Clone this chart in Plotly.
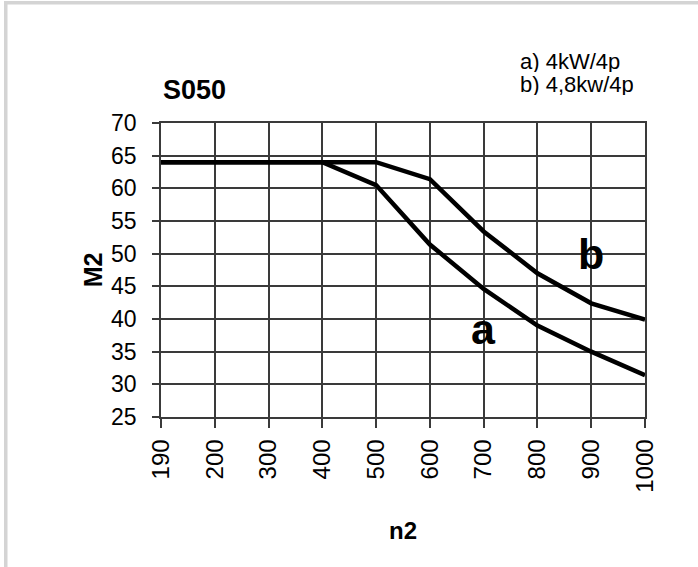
import plotly.graph_objects as go

n2 = ["190", "200", "300", "400", "500", "600", "700", "800", "900", "1000"]
m2_a = [64, 64, 64, 64, 60.5, 51.4, 44.6, 39.0, 35.0, 31.4]
m2_b = [64, 64, 64, 64, 64, 61.4, 53.4, 47.0, 42.4, 39.9]
y_ticks = [25, 30, 35, 40, 45, 50, 55, 60, 65, 70]

FONT = "Liberation Sans Narrow, Liberation Sans, Arial, sans-serif"
W, H = 698, 567
L, R, T, B = 161, 53, 123, 150
PW, PH = W - L - R, H - T - B

def px(x):
    return (x - L) / PW

def py(y):
    return (H - B - y) / PH

fig = go.Figure()
for vals in (m2_a, m2_b):
    fig.add_trace(go.Scatter(
        x=n2, y=vals, mode="lines",
        line=dict(color="black", width=4.5),
        showlegend=False, hoverinfo="skip", cliponaxis=False,
    ))

fig.add_annotation(x=n2.index("700"), y=38.4, text="<b>a</b>", showarrow=False,
                   font=dict(family=FONT, size=43, color="black"))
fig.add_annotation(x=n2.index("900"), y=50.0, text="<b>b</b>", showarrow=False,
                   font=dict(family=FONT, size=43, color="black"))

# title and legend texts
fig.add_annotation(xref="paper", yref="paper", x=px(194), y=py(90),
                   xanchor="center", yanchor="middle",
                   text="<b>S050</b>", showarrow=False,
                   font=dict(family=FONT, size=27, color="black"))
fig.add_annotation(xref="paper", yref="paper", x=px(519), y=py(61),
                   xanchor="left", yanchor="middle", text="a) 4kW/4p", showarrow=False,
                   height=22, borderpad=0,
                   font=dict(family=FONT, size=22, color="black"))
fig.add_annotation(xref="paper", yref="paper", x=px(519), y=py(84),
                   xanchor="left", yanchor="middle", text="b) 4,8kw/4p", showarrow=False,
                   height=22, borderpad=0,
                   font=dict(family=FONT, size=22, color="black"))

# frame of the picture
fig.add_shape(type="rect", xref="paper", yref="paper",
              x0=px(4), x1=px(7.5), y0=py(567), y1=py(1),
              fillcolor="#d4d4d4", line_width=0, layer="below")
fig.add_shape(type="rect", xref="paper", yref="paper",
              x0=px(4), x1=px(700), y0=py(4.5), y1=py(1),
              fillcolor="#d4d4d4", line_width=0, layer="below")

grid = "#3a3a3a"
fig.update_xaxes(
    type="category", range=[0, 9], tickvals=n2, ticktext=n2,
    tickangle=-90, tickfont=dict(family=FONT, size=24, color="black"),
    showgrid=True, gridcolor=grid, gridwidth=1.5,
    ticks="outside", ticklen=9, tickwidth=1.5, tickcolor=grid,
    showline=True, linecolor=grid, linewidth=1.5, mirror=True,
    zeroline=False, ticklabelstandoff=2,
    title=dict(text="<b>n2</b>", font=dict(family=FONT, size=24, color="black"), standoff=30),
)
fig.update_yaxes(
    range=[25, 70], tickvals=y_ticks,
    tickfont=dict(family=FONT, size=23, color="black"),
    showgrid=True, gridcolor=grid, gridwidth=1.5,
    ticks="outside", ticklen=7, tickwidth=1.5, tickcolor=grid,
    showline=True, linecolor=grid, linewidth=1.5, mirror=True,
    zeroline=False, ticklabelstandoff=11,
    title=dict(text="<b>M2</b>", font=dict(family=FONT, size=25, color="black"), standoff=1),
)
fig.update_layout(
    width=W, height=H, autosize=False,
    margin=dict(l=L, r=R, t=T, b=B),
    paper_bgcolor="white", plot_bgcolor="white",
    font=dict(family=FONT, color="black"),
)
fig.write_html("out.html", config={"displayModeBar": False},
               post_script="document.body.style.margin='0';document.body.style.overflow='hidden';")
